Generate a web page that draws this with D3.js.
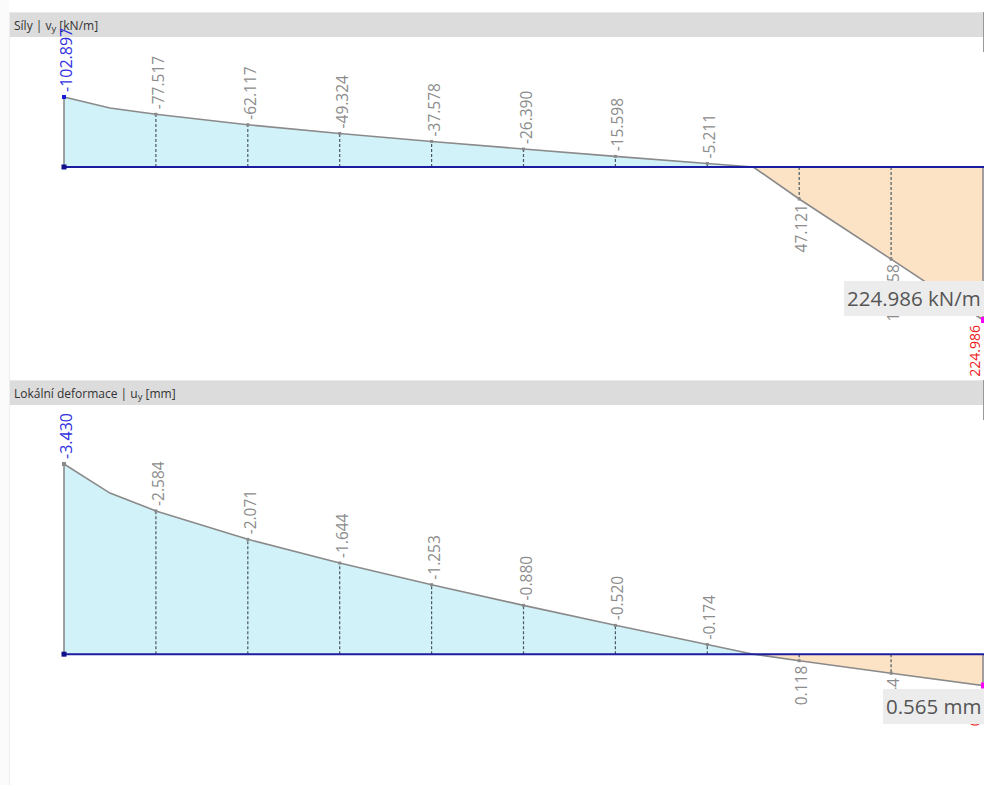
<!DOCTYPE html>
<html>
<head>
<meta charset="utf-8">
<script src="https://cdn.jsdelivr.net/npm/d3@7"></script>
<style>
  html, body { margin: 0; padding: 0; background: #fff; }
  svg { display: block; font-family: "Open Sans", "Noto Sans", sans-serif; }
</style>
</head>
<body>
<svg id="chart" width="984" height="785"></svg>
<script>
// Positions along the member (station index; half steps are extra result points)
const positions = [0, 0.5, 1, 2, 3, 4, 5, 6, 7, 7.5, 8, 9, 10];
// Line load vy [kN/m]
const vyValues = [-102.897, -86.8, -77.517, -62.117, -49.324, -37.578, -26.390, -15.598, -5.211, 0, 47.121, 135.558, 224.986];
// Local deformation uy [mm]
const uyValues = [-3.430, -2.906, -2.584, -2.071, -1.644, -1.253, -0.880, -0.520, -0.174, 0, 0.118, 0.344, 0.565];

const panels = [
  { title: ["Síly | v", "y", " [kN/m]"], values: vyValues, unit: "kN/m",
    top: 12, yRange: [97, 320], boxW: 140, boxDy: -39 },
  { title: ["Lokální deformace | u", "y", " [mm]"], values: uyValues, unit: "mm",
    top: 380, yRange: [464, 685.5], boxW: 101, boxDy: 3.5 }
];

const svg = d3.select("#chart");
const locale = d3.formatLocale({ decimal: ".", thousands: ",", grouping: [3], currency: ["", ""], minus: "-" });
const fmt = locale.format(".3f");
const x = d3.scaleLinear().domain([0, 10]).range([64, 983]);

// faint frame on the left
svg.append("rect").attr("x", 0).attr("y", 0).attr("width", 9).attr("height", 785).attr("fill", "#fbfbfb");
svg.append("line").attr("x1", 9.5).attr("x2", 9.5).attr("y1", 12).attr("y2", 785)
  .attr("stroke", "#eeeeee").attr("stroke-width", 1);

panels.forEach((p, i) => {
  const g = svg.append("g");
  const vals = p.values;
  const y = d3.scaleLinear().domain([d3.min(vals), d3.max(vals)]).range(p.yRange);
  const y0 = y(0);
  const pts = positions.map((s, k) => ({ s, v: vals[k] }));

  // header bar
  g.append("rect").attr("x", 10).attr("y", p.top).attr("width", 974).attr("height", 25)
    .attr("fill", "#dcdcdc");
  g.append("line").attr("x1", 10).attr("x2", 984).attr("y1", p.top + 0.5).attr("y2", p.top + 0.5)
    .attr("stroke", "#e8e8e8");
  g.append("line").attr("x1", 983.5).attr("x2", 983.5).attr("y1", p.top).attr("y2", p.top + 40)
    .attr("stroke", "#999");
  const t = g.append("text").attr("x", 14).attr("y", p.top + 18)
    .attr("font-size", 12).attr("fill", "#333");
  t.append("tspan").text(p.title[0]);
  t.append("tspan").attr("font-size", 9.5).attr("dy", 2).text(p.title[1]);
  t.append("tspan").attr("dy", -2).text(p.title[2]);

  // clip regions for negative / positive part
  const clipNeg = "clipNeg" + i, clipPos = "clipPos" + i;
  const defs = svg.append("defs");
  defs.append("clipPath").attr("id", clipNeg).append("rect")
    .attr("x", 0).attr("y", 0).attr("width", 984).attr("height", y0);
  defs.append("clipPath").attr("id", clipPos).append("rect")
    .attr("x", 0).attr("y", y0).attr("width", 984).attr("height", 785 - y0);

  const area = d3.area().x(d => x(d.s)).y0(y0).y1(d => y(d.v));
  g.append("path").datum(pts).attr("d", area).attr("fill", "#d2f2f9")
    .attr("clip-path", `url(#${clipNeg})`);
  g.append("path").datum(pts).attr("d", area).attr("fill", "#fde3c5")
    .attr("clip-path", `url(#${clipPos})`);

  const stations = pts.filter(d => Number.isInteger(d.s));

  // dashed ordinates at inner stations
  g.selectAll("line.ord").data(stations.filter(d => d.s > 0 && d.s < 10)).join("line")
    .attr("class", "ord")
    .attr("x1", d => x(d.s)).attr("x2", d => x(d.s))
    .attr("y1", y0).attr("y2", d => y(d.v))
    .attr("stroke", "#4a5a60").attr("stroke-width", 1.2).attr("stroke-dasharray", "3,2");

  // outline of the diagram
  const edge = [{ s: 0, v: 0 }, ...pts, { s: 10, v: 0 }];
  g.append("path").datum(edge)
    .attr("d", d3.line().x(d => x(d.s)).y(d => (d.v === 0 ? y0 : y(d.v))))
    .attr("fill", "none").attr("stroke", "#8a8a8a").attr("stroke-width", 1.6);

  // member axis
  g.append("line").attr("x1", x(0)).attr("x2", 984).attr("y1", y0).attr("y2", y0)
    .attr("stroke", "#1c1ca0").attr("stroke-width", 2);
  g.append("rect").attr("x", x(0) - 2.5).attr("y", y0 - 2.5).attr("width", 5).attr("height", 5)
    .attr("fill", "#10108a");

  // station markers
  g.selectAll("rect.mk").data(stations.filter(d => d.s > 0 && d.s < 10)).join("rect")
    .attr("class", "mk")
    .attr("x", d => x(d.s) - 1.5).attr("y", d => y(d.v) - 1.5)
    .attr("width", 3).attr("height", 3).attr("fill", "#8a8a8a");
  g.append("rect").attr("x", x(0) - 2).attr("y", y(vals[0]) - 2).attr("width", 4).attr("height", 4)
    .attr("fill", i === 0 ? "#1a1ad8" : "#8a8a8a");

  // value labels at inner stations
  g.selectAll("text.val").data(stations.filter(d => d.s > 0 && d.s < 10)).join("text")
    .attr("class", "val")
    .attr("transform", d => d.v < 0
      ? `translate(${x(d.s) + 8},${y(d.v) - 5}) rotate(-90)`
      : `translate(${x(d.s) + 8},${y(d.v) + 5}) rotate(-90)`)
    .attr("text-anchor", d => (d.v < 0 ? "start" : "end"))
    .attr("font-size", 15.5).attr("fill", "#8c8c8c")
    .text(d => fmt(d.v));

  // extreme values
  const first = stations[0], last = stations[stations.length - 1];
  g.append("text")
    .attr("transform", `translate(${x(first.s) + 8},${y(first.v) - 5}) rotate(-90)`)
    .attr("text-anchor", "start").attr("font-size", 16).attr("fill", "#3030e0")
    .text(fmt(first.v));
  g.append("text")
    .attr("transform", `translate(980,${y(last.v) + 5}) rotate(-90)`)
    .attr("text-anchor", "end").attr("font-size", 14).attr("fill", "#ee2020")
    .text(fmt(last.v));
  g.append("rect").attr("x", x(last.s) - 2).attr("y", y(last.v) - 3).attr("width", 6).attr("height", 6)
    .attr("fill", "#ff00ff");

  // tooltip with the maximum value
  const by = y(last.v) + p.boxDy;
  g.append("rect").attr("x", 984 - p.boxW).attr("y", by).attr("width", p.boxW).attr("height", 35)
    .attr("fill", "#ececec");
  g.append("text").attr("x", 984 - p.boxW + 3).attr("y", by + 25)
    .attr("font-size", 20.5).attr("fill", "#555")
    .text(`${fmt(last.v)} ${p.unit}`);
});
</script>
</body>
</html>
